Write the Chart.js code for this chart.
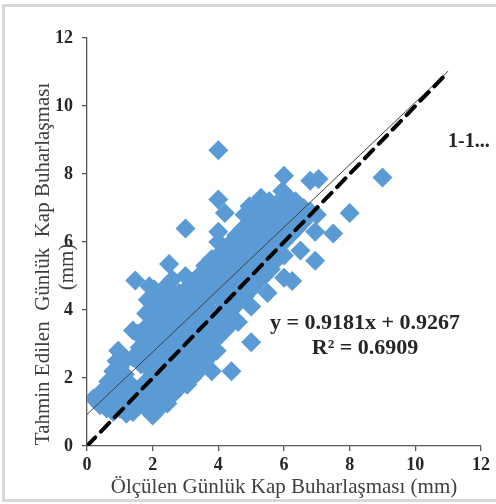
<!DOCTYPE html>
<html>
<head>
<meta charset="utf-8">
<script src="https://cdn.jsdelivr.net/npm/chart.js@4/dist/chart.umd.min.js"></script>
<style>
    body { margin: 0; background: #fff; }
    #wrap { width: 496px; height: 504px; position: relative; }
</style>
</head>
<body>
<div id="wrap"><canvas id="evapChart" width="496" height="504"></canvas></div>
<script>
// Ölçülen (measured) vs tahmin edilen (predicted) günlük kap buharlaşması, mm
const measured = [
    0.2, 0.4, 0.45, 0.6, 0.6, 0.65,
    0.8, 0.8, 0.85, 0.8, 0.9,
    1.0, 1.0, 1.05, 1.0, 0.95,
    1.2, 1.2, 1.25, 1.15, 1.2,
    1.4, 1.4, 1.35, 1.4, 1.4, 1.47,
    1.6, 1.6, 1.65, 1.6, 1.55,
    1.8, 1.8, 1.8, 1.85, 1.8, 1.75, 1.8, 1.8, 1.85, 1.9,
    2.0, 2.0, 2.05, 2.0, 2.0, 2.0, 1.95, 2.0, 2.0, 2.05,
    2.2, 2.2, 2.2, 2.25, 2.2, 2.2, 2.15, 2.2, 2.2,
    2.45, 2.4, 2.4, 2.4, 2.45, 2.4, 2.4, 2.35, 2.4, 2.5,
    2.6, 2.6, 2.65, 2.6, 2.6, 2.55, 2.6, 2.6, 2.6,
    2.8, 2.8, 2.85, 2.8, 2.8, 2.75, 2.8, 2.8,
    3.05, 3.0, 3.0, 3.0, 2.95, 3.0, 3.05, 3.0, 3.0, 3.0,
    3.2, 3.2, 3.25, 3.2, 3.2, 3.15, 3.2, 3.2,
    3.4, 3.4, 3.45, 3.4, 3.4, 3.35, 3.4, 3.4,
    3.6, 3.6, 3.65, 3.6, 3.6, 3.55, 3.6, 3.6,
    3.8, 3.8, 3.85, 3.8, 3.8, 3.75, 3.8, 3.8, 3.8,
    3.95, 4.0, 4.0, 4.05, 4.0, 4.0, 3.95, 4.0, 4.0, 4.0, 4.0, 4.0,
    4.2, 4.2, 4.25, 4.2, 4.2, 4.15, 4.2, 4.2,
    4.4, 4.4, 4.4, 4.45, 4.4, 4.4, 4.35, 4.4,
    4.6, 4.6, 4.6, 4.65, 4.6, 4.6, 4.55,
    4.8, 4.8, 4.85, 4.8, 4.8, 4.75, 4.8,
    5.0, 5.0, 5.0, 5.05, 5.0, 5.0, 4.95, 5.0, 4.95,
    5.2, 5.2, 5.25, 5.2, 5.2, 5.15, 5.25,
    5.5, 5.4, 5.4, 5.45, 5.4, 5.4, 5.35, 5.3,
    5.6, 5.6, 5.65, 5.6, 5.6, 5.55,
    5.8, 5.8, 5.85, 5.8, 5.75,
    6.0, 6.0, 6.0, 6.05, 6.0, 6.0, 5.95, 6.0,
    6.25, 6.2, 6.2, 6.2, 6.15,
    6.4, 6.4, 6.35, 6.5, 6.6, 6.6,
    6.8, 6.8, 6.95, 6.95, 7.0, 7.05,
    7.5, 8.0, 9.0
];
const predicted = [
    1.4, 1.2, 1.6, 1.1, 1.5, 1.9,
    1.0, 1.4, 1.8, 2.2, 2.5,
    1.1, 1.5, 1.9, 2.3, 2.8,
    0.95, 1.3, 1.7, 2.1, 2.55,
    1.0, 1.4, 1.8, 2.6, 3.4, 4.87,
    1.2, 1.6, 2.4, 2.9, 3.3,
    1.1, 1.5, 1.9, 2.3, 2.7, 3.1, 3.5, 3.9, 4.3, 4.7,
    0.9, 1.3, 1.7, 2.1, 2.5, 2.9, 3.3, 3.7, 4.1, 4.6,
    1.1, 1.5, 1.9, 2.3, 2.7, 3.1, 3.5, 3.9, 4.4,
    1.25, 1.7, 2.1, 2.5, 2.9, 3.3, 3.7, 4.2, 4.7, 5.35,
    1.5, 1.9, 2.3, 2.7, 3.1, 3.5, 3.9, 4.4, 4.9,
    1.7, 2.1, 2.5, 2.9, 3.3, 3.7, 4.1, 4.5,
    1.8, 2.2, 2.6, 3.0, 3.4, 3.8, 4.2, 4.6, 5.0, 6.4,
    2.0, 2.4, 2.8, 3.2, 3.6, 4.0, 4.4, 4.8,
    2.2, 2.6, 3.0, 3.4, 3.8, 4.2, 4.6, 5.0,
    2.5, 2.9, 3.3, 3.7, 4.1, 4.5, 4.9, 5.3,
    2.2, 2.7, 3.1, 3.5, 3.9, 4.3, 4.7, 5.1, 5.5,
    2.8, 3.2, 3.6, 4.0, 4.4, 4.8, 5.2, 5.6, 6.0, 6.3, 7.25, 8.7,
    3.4, 3.8, 4.2, 4.6, 5.0, 5.4, 5.8, 6.85,
    2.2, 3.6, 4.0, 4.4, 4.8, 5.2, 5.6, 6.0,
    3.65, 4.2, 4.6, 5.0, 5.4, 5.8, 6.2,
    4.4, 4.8, 5.2, 5.6, 6.0, 6.4, 6.8,
    3.05, 4.1, 4.6, 5.0, 5.4, 5.8, 6.2, 6.6, 7.05,
    4.8, 5.2, 5.6, 6.0, 6.4, 6.8, 7.1,
    4.5, 5.0, 5.4, 5.8, 6.2, 6.6, 7.0, 7.3,
    5.2, 5.6, 6.0, 6.4, 6.8, 7.2,
    5.5, 5.9, 6.3, 6.7, 7.1,
    4.95, 5.6, 6.0, 6.4, 6.8, 7.2, 7.5, 7.95,
    4.85, 6.2, 6.6, 7.0, 7.3,
    6.4, 6.8, 7.2, 5.75, 6.6, 7.0,
    6.9, 7.8, 5.45, 6.3, 6.8, 7.85,
    6.25, 6.85, 7.9
];

// trend line (y = 0.9181x + 0.9267) and the 1:1 line
const trendSlope = 0.9181;
const trendIntercept = 0.9267;
const lineX = [0, 11];
const axisTicks = [0, 2, 4, 6, 8, 10, 12];

const serif = '"Liberation Serif", "Times New Roman", serif';

const points = measured.map((x, i) => ({ x: x, y: predicted[i] }));
const trendPoints = lineX.map(x => ({ x: x, y: trendSlope * x + trendIntercept }));
const onePoints = lineX.map(x => ({ x: x, y: x }));

// Texts drawn on top: axis titles, equation, 1-1 label, frame
const textPlugin = {
    id: 'texts',
    afterDraw(chart) {
        const ctx = chart.ctx;
        ctx.save();
        ctx.fillStyle = '#404040';
        ctx.textAlign = 'center';
        ctx.textBaseline = 'middle';

        ctx.font = '21px ' + serif;
        ctx.fillText('Ölçülen Günlük Kap Buharlaşması (mm)', 284, 487);

        ctx.save();
        ctx.translate(43, 264);
        ctx.rotate(-Math.PI / 2);
        ctx.fillText('Tahmin Edilen  Günlük  Kap Buharlaşması', 0, 0);
        ctx.restore();
        ctx.save();
        ctx.translate(67, 267);
        ctx.rotate(-Math.PI / 2);
        ctx.fillText('(mm)', 0, 0);
        ctx.restore();

        ctx.fillStyle = '#262626';
        ctx.font = 'bold 22px ' + serif;
        ctx.fillText('y = 0.9181x + 0.9267', 365, 323);
        ctx.fillText('R² = 0.6909', 365, 348);

        ctx.textAlign = 'left';
        ctx.font = 'bold 20px ' + serif;
        ctx.fillText('1-1...', 448, 142);

        ctx.strokeStyle = '#d9d9d9';
        ctx.lineWidth = 3;
        ctx.strokeRect(3.5, 5.5, 500, 495);
        ctx.restore();
    }
};

const ctx = document.getElementById('evapChart').getContext('2d');
new Chart(ctx, {
    type: 'scatter',
    data: {
        datasets: [
            {
                label: '1-1',
                data: onePoints,
                showLine: true,
                borderColor: '#000000',
                borderWidth: 4,
                borderDash: [12, 8],
                borderCapStyle: 'round',
                pointRadius: 0,
                order: 0
            },
            {
                label: 'Doğrusal',
                data: trendPoints,
                showLine: true,
                borderColor: '#404040',
                borderWidth: 1,
                pointRadius: 0,
                order: 0
            },
            {
                label: 'Tahmin',
                data: points,
                pointStyle: 'rectRot',
                pointRadius: 10,
                pointHoverRadius: 10,
                backgroundColor: '#5B9BD5',
                borderWidth: 0,
                order: 1
            }
        ]
    },
    options: {
        responsive: false,
        animation: false,
        events: [],
        layout: { padding: { left: 0, top: 38, right: 15, bottom: 0 } },
        plugins: {
            legend: { display: false },
            tooltip: { enabled: false }
        },
        scales: {
            x: {
                min: 0,
                max: 12,
                afterFit: s => { s.height = 58; },
                afterBuildTicks: s => { s.ticks = axisTicks.map(v => ({ value: v })); },
                border: { display: true, color: '#595959', width: 1.3 },
                grid: { display: true, drawOnChartArea: false, drawTicks: true, tickLength: 5, color: '#595959', lineWidth: 1.3 },
                ticks: { color: '#262626', padding: 4, maxRotation: 0, font: { family: serif, size: 18, weight: 'bold' } }
            },
            y: {
                min: 0,
                max: 12,
                afterFit: s => { s.width = 87; },
                afterBuildTicks: s => { s.ticks = axisTicks.map(v => ({ value: v })); },
                border: { display: true, color: '#595959', width: 1.3 },
                grid: { display: true, drawOnChartArea: false, drawTicks: true, tickLength: 5, color: '#595959', lineWidth: 1.3 },
                ticks: { color: '#262626', padding: 9, font: { family: serif, size: 18, weight: 'bold' } }
            }
        }
    },
    plugins: [textPlugin]
});
</script>
</body>
</html>
